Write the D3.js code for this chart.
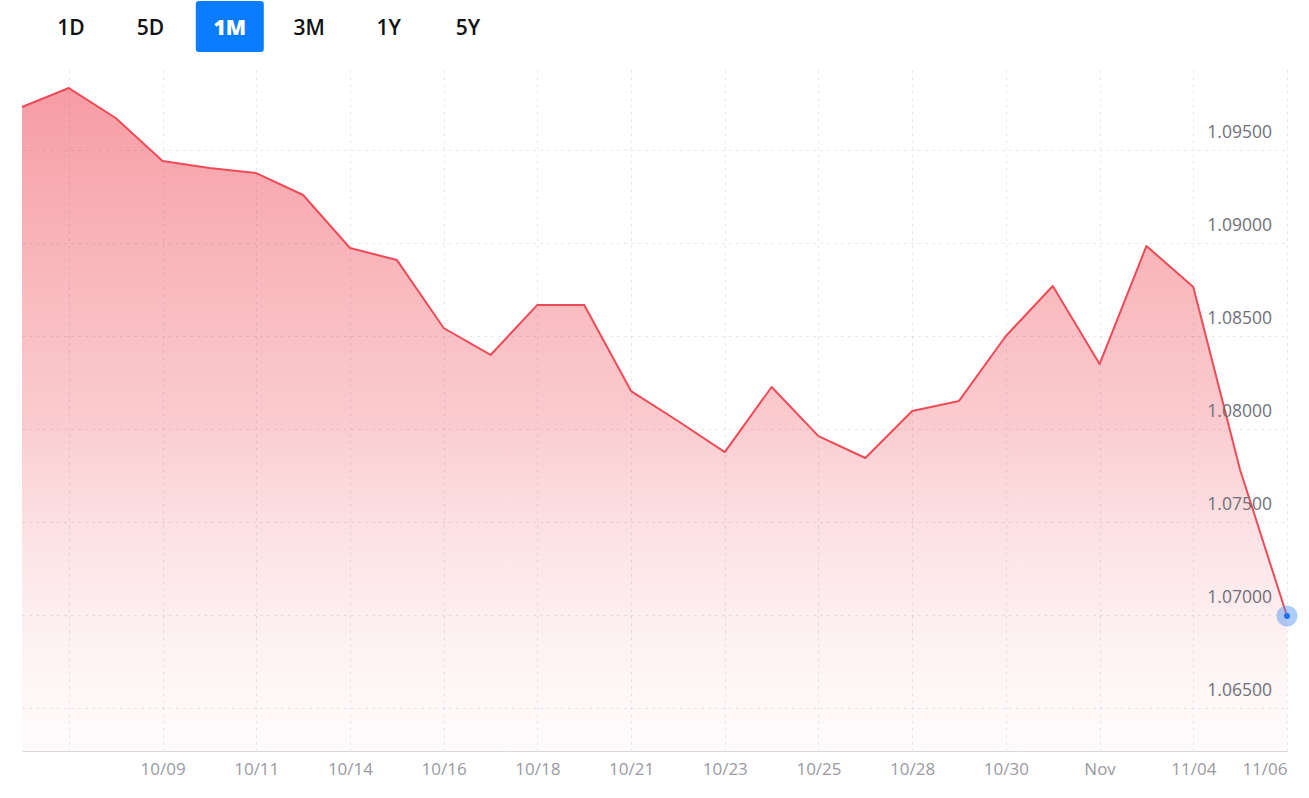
<!DOCTYPE html>
<html>
<head>
<meta charset="utf-8">
<script src="https://cdn.jsdelivr.net/npm/d3@7"></script>
<style>
  html, body { margin: 0; padding: 0; background: #fff; }
  body { width: 1309px; height: 798px; overflow: hidden; font-family: "Open Sans", "Noto Sans", sans-serif; }
</style>
</head>
<body>
<svg id="chart" width="1309" height="798"></svg>
<script>
// range buttons
const RANGES = ["1D", "5D", "1M", "3M", "1Y", "5Y"];
const ACTIVE_RANGE = "1M";

// one point per session (forex, Sunday opens included)
const DATES = [
  "10/06","10/07","10/08","10/09","10/10","10/11","10/13","10/14","10/15","10/16",
  "10/17","10/18","10/20","10/21","10/22","10/23","10/24","10/25","10/27","10/28",
  "10/29","10/30","10/31","11/01","11/03","11/04","11/05","11/06"
];
const PRICES = [
  1.09731, 1.09833, 1.09672, 1.09441, 1.09403, 1.09376, 1.09258, 1.08973, 1.08909, 1.08543,
  1.08398, 1.08667, 1.08667, 1.08204, 1.08043, 1.07876, 1.08226, 1.07962, 1.07844, 1.08097,
  1.08151, 1.08500, 1.08769, 1.08349, 1.08984, 1.08763, 1.07780, 1.06995
];
// dates that get a tick label (the first gridline has none)
const TICK_DATES = ["10/07","10/09","10/11","10/14","10/16","10/18","10/21","10/23","10/25","10/28","10/30","11/01","11/04","11/06"];
const TICK_LABELS = { "10/07": "", "11/01": "Nov" };
const Y_TICKS = [1.065, 1.07, 1.075, 1.08, 1.085, 1.09, 1.095];

const svg = d3.select("#chart");
const M = { left: 22, right: 22, top: 70, bottom: 47 };
const W = 1309, H = 798;

// ── buttons ──
const btnX = d3.scalePoint().domain(RANGES).range([71, 468]);
const btns = svg.append("g").selectAll("g").data(RANGES).join("g")
  .attr("transform", d => `translate(${btnX(d)},27)`);
btns.filter(d => d === ACTIVE_RANGE).append("rect")
  .attr("x", -34).attr("y", -26).attr("width", 68).attr("height", 51)
  .attr("rx", 3).attr("fill", "#0a7cff");
btns.append("text")
  .attr("text-anchor", "middle").attr("dy", "0.36em")
  .attr("font-size", 21).attr("font-weight", d => d === ACTIVE_RANGE ? 800 : 600)
  .attr("fill", d => d === ACTIVE_RANGE ? "#fff" : "#111")
  .text(d => d);

// ── scales ──
const x = d3.scalePoint().domain(DATES).range([M.left, W - M.right]);
const y = d3.scaleLinear().domain([1.06269, 1.0993]).range([H - M.bottom, M.top]);

const defs = svg.append("defs");
const grad = defs.append("linearGradient").attr("id", "fillGrad")
  .attr("gradientUnits", "userSpaceOnUse")
  .attr("x1", 0).attr("x2", 0).attr("y1", y(d3.max(PRICES))).attr("y2", H - M.bottom);
grad.append("stop").attr("offset", 0).attr("stop-color", "#f4838d").attr("stop-opacity", 0.8);
grad.append("stop").attr("offset", 0.5).attr("stop-color", "#f7a8ae").attr("stop-opacity", 0.6);
grad.append("stop").attr("offset", 1).attr("stop-color", "#fde6e8").attr("stop-opacity", 0.15);

const data = DATES.map((d, i) => ({ date: d, v: PRICES[i] }));

// ── area ──
svg.append("path").datum(data)
  .attr("fill", "url(#fillGrad)")
  .attr("d", d3.area().x(d => x(d.date)).y0(H - M.bottom).y1(d => y(d.v)));

// ── grid (drawn over the fill, translucent so it darkens the pink slightly) ──
const grid = svg.append("g").attr("stroke", "rgba(70,70,95,0.12)").attr("stroke-dasharray", "3,4").attr("stroke-width", 1);
grid.selectAll("line.h").data(Y_TICKS).join("line")
  .attr("x1", M.left).attr("x2", W - M.right)
  .attr("y1", d => Math.round(y(d)) + 0.5).attr("y2", d => Math.round(y(d)) + 0.5);
grid.selectAll("line.v").data(TICK_DATES).join("line")
  .attr("x1", d => Math.round(x(d)) + 0.5).attr("x2", d => Math.round(x(d)) + 0.5)
  .attr("y1", M.top).attr("y2", H - M.bottom);

// ── line ──
svg.append("path").datum(data)
  .attr("fill", "none").attr("stroke", "#ef4b57").attr("stroke-width", 2)
  .attr("stroke-linejoin", "round")
  .attr("d", d3.line().x(d => x(d.date)).y(d => y(d.v)));

// ── x axis ──
const xAxis = svg.append("g").attr("transform", `translate(0,${H - M.bottom})`)
  .call(d3.axisBottom(x).tickValues(TICK_DATES).tickSize(0).tickPadding(12)
    .tickFormat(d => d in TICK_LABELS ? TICK_LABELS[d] : d));
xAxis.select(".domain").attr("stroke", "#d6d6dc").attr("stroke-width", 1);
xAxis.selectAll("text").attr("font-family", "'Open Sans', sans-serif")
  .attr("font-size", 17).attr("fill", "#9a9aa2");
xAxis.selectAll(".tick").filter(d => d === DATES[DATES.length - 1])
  .select("text").attr("text-anchor", "end");

// ── y axis labels, inside the plot, sitting above their gridline ──
const yAxis = svg.append("g").attr("transform", `translate(${W - 37},0)`)
  .call(d3.axisLeft(y).tickValues(Y_TICKS).tickSize(0).tickPadding(0).tickFormat(d3.format(".5f")));
yAxis.select(".domain").remove();
yAxis.selectAll("text").attr("font-family", "'Open Sans', sans-serif")
  .attr("font-size", 17.5).attr("fill", "#70707a").attr("y", -18);

// ── last price marker ──
const last = data[data.length - 1];
svg.append("circle").attr("cx", x(last.date)).attr("cy", y(last.v)).attr("r", 10.5)
  .attr("fill", "#4b8ff0").attr("fill-opacity", 0.45);
svg.append("circle").attr("cx", x(last.date)).attr("cy", y(last.v)).attr("r", 3)
  .attr("fill", "#1a73e8");
</script>
</body>
</html>
